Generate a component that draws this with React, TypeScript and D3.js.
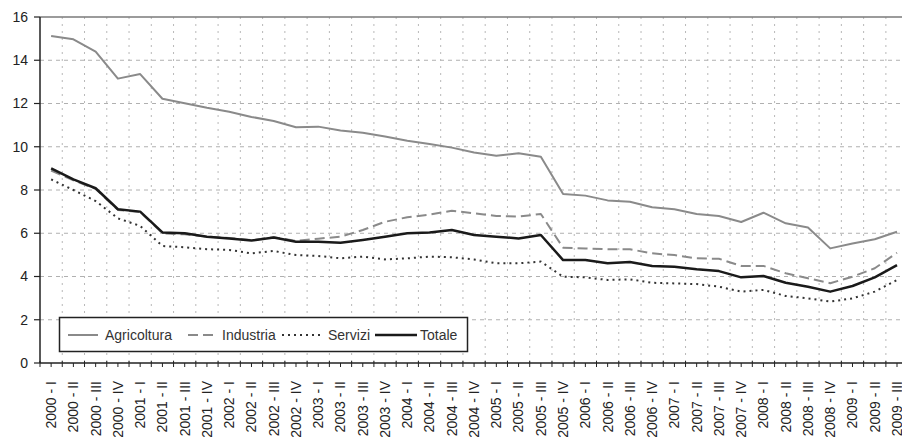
import React from "react";
import * as d3 from "d3";

const romans = ["I", "II", "III", "IV"];
const years = [2000, 2001, 2002, 2003, 2004, 2005, 2006, 2007, 2008, 2009];
const quarters: string[] = [];
years.forEach((y) => romans.forEach((r) => quarters.push(`${y} - ${r}`)));
const categories = quarters.slice(0, 39);

const agricoltura = [15.12, 14.97, 14.4, 13.15, 13.36, 12.22, 12.01, 11.8, 11.62, 11.38, 11.19, 10.9, 10.93, 10.75, 10.65, 10.47, 10.28, 10.13, 9.96, 9.73, 9.58, 9.7, 9.54, 7.81, 7.74, 7.52, 7.46, 7.2, 7.11, 6.89, 6.8, 6.52, 6.95, 6.46, 6.27, 5.3, 5.53, 5.72, 6.07];
const industria = [8.9, 8.45, 8.05, 7.08, 6.98, 6.0, 5.95, 5.85, 5.78, 5.68, 5.82, 5.65, 5.75, 5.84, 6.15, 6.53, 6.74, 6.86, 7.04, 6.92, 6.8, 6.77, 6.89, 5.33, 5.3, 5.26, 5.26, 5.07, 4.99, 4.84, 4.82, 4.49, 4.49, 4.15, 3.92, 3.69, 3.99, 4.38, 5.1];
const servizi = [8.49, 8.0, 7.49, 6.69, 6.34, 5.41, 5.35, 5.26, 5.23, 5.07, 5.18, 4.99, 4.95, 4.84, 4.92, 4.79, 4.84, 4.92, 4.89, 4.79, 4.61, 4.61, 4.69, 3.99, 3.96, 3.84, 3.87, 3.71, 3.68, 3.65, 3.53, 3.3, 3.38, 3.1, 2.99, 2.84, 2.99, 3.3, 3.84];
const totale = [9.0, 8.49, 8.08, 7.11, 7.0, 6.04, 6.0, 5.84, 5.76, 5.66, 5.8, 5.61, 5.61, 5.56, 5.69, 5.84, 6.0, 6.03, 6.15, 5.92, 5.84, 5.76, 5.92, 4.76, 4.76, 4.61, 4.67, 4.49, 4.45, 4.33, 4.25, 3.96, 4.02, 3.71, 3.53, 3.3, 3.56, 3.96, 4.53];
const yTicks = [0, 2, 4, 6, 8, 10, 12, 14, 16];
const seriesNames = ["Agricoltura", "Industria", "Servizi", "Totale"];

const W = 902;
const H = 438;
const left = 40;
const top = 17;
const bottom = 363;
const bandW = 22.26;
const right = left + bandW * categories.length;

export default function App() {
  const x = d3.scaleBand<string>().domain(categories).range([left, right]).padding(0);
  const y = d3.scaleLinear().domain([0, 16]).range([bottom, top]);
  const cx = (c: string) => (x(c) as number) + x.bandwidth() / 2;
  const line = (vals: number[]) =>
    d3.line<number>().x((_, i) => cx(categories[i])).y((v) => y(v))(vals) as string;

  const styles = [
    { data: agricoltura, stroke: "#8a8a8a", width: 2, dash: "" },
    { data: industria, stroke: "#8a8a8a", width: 2, dash: "10,5" },
    { data: servizi, stroke: "#333", width: 2, dash: "2,4" },
    { data: totale, stroke: "#1a1a1a", width: 2.5, dash: "" },
  ];

  const legendItems = [
    { x0: 68, x1: 98, tx: 105 },
    { x0: 188, x1: 218, tx: 222 },
    { x0: 282, x1: 322, tx: 328 },
    { x0: 375, x1: 417, tx: 420 },
  ];

  const font = "Liberation Sans, Arial, sans-serif";

  return (
    <svg width={W} height={H} style={{ position: "absolute", left: 0, top: 0, background: "#fff" }} fontFamily={font}>
      <defs>
        <clipPath id="clip">
          <rect x={0} y={0} width={W} height={H} />
        </clipPath>
      </defs>
      {/* horizontal gridlines */}
      {yTicks.filter((t) => t > 0 && t < 16).map((t) => (
        <line key={"h" + t} x1={left} x2={W} y1={y(t)} y2={y(t)} stroke="#b0b0b0" strokeWidth={1} strokeDasharray="4,4" />
      ))}
      {/* vertical gridlines */}
      {categories.slice(1).map((c) => (
        <line key={"v" + c} x1={x(c) as number} x2={x(c) as number} y1={top} y2={bottom} stroke="#b8b8b8" strokeWidth={1} strokeDasharray="2,5" />
      ))}
      {/* top border */}
      <line x1={left} x2={W} y1={top} y2={top} stroke="#7a7a7a" strokeWidth={1.5} />
      {/* axes */}
      <line x1={left} x2={left} y1={top} y2={bottom} stroke="#222" strokeWidth={1.5} />
      <line x1={left} x2={W} y1={bottom} y2={bottom} stroke="#222" strokeWidth={1.5} />
      {yTicks.map((t) => (
        <g key={"yt" + t}>
          <line x1={left - 6} x2={left} y1={y(t)} y2={y(t)} stroke="#222" strokeWidth={1.2} />
          <text x={left - 12} y={y(t)} dy="0.35em" textAnchor="end" fontSize={14} fill="#222">{t}</text>
        </g>
      ))}
      {categories.map((c) => (
        <g key={"xt" + c}>
          <line x1={x(c) as number} x2={x(c) as number} y1={bottom - 2} y2={bottom + 4} stroke="#222" strokeWidth={1} />
          <line x1={cx(c)} x2={cx(c)} y1={bottom} y2={bottom + 4} stroke="#222" strokeWidth={1} />
          <text transform={`translate(${cx(c)},381) rotate(-90)`} dy="0.35em" textAnchor="end" fontSize={14} fill="#222">{c}</text>
        </g>
      ))}
      {/* series */}
      <g clipPath="url(#clip)">
        {styles.map((s, i) => (
          <path key={"s" + i} d={line(s.data)} fill="none" stroke={s.stroke} strokeWidth={s.width} strokeDasharray={s.dash || undefined} strokeLinejoin="round" />
        ))}
      </g>
      {/* legend */}
      <rect x={59.5} y={317.5} width={408} height={34} fill="#fff" stroke="#222" strokeWidth={1.5} />
      {legendItems.map((li, i) => (
        <g key={"lg" + i}>
          <line x1={li.x0} x2={li.x1} y1={335} y2={335} stroke={styles[i].stroke} strokeWidth={styles[i].width} strokeDasharray={styles[i].dash || undefined} />
          <text x={li.tx} y={335} dy="0.35em" fontSize={14} fill="#333">{seriesNames[i]}</text>
        </g>
      ))}
    </svg>
  );
}
